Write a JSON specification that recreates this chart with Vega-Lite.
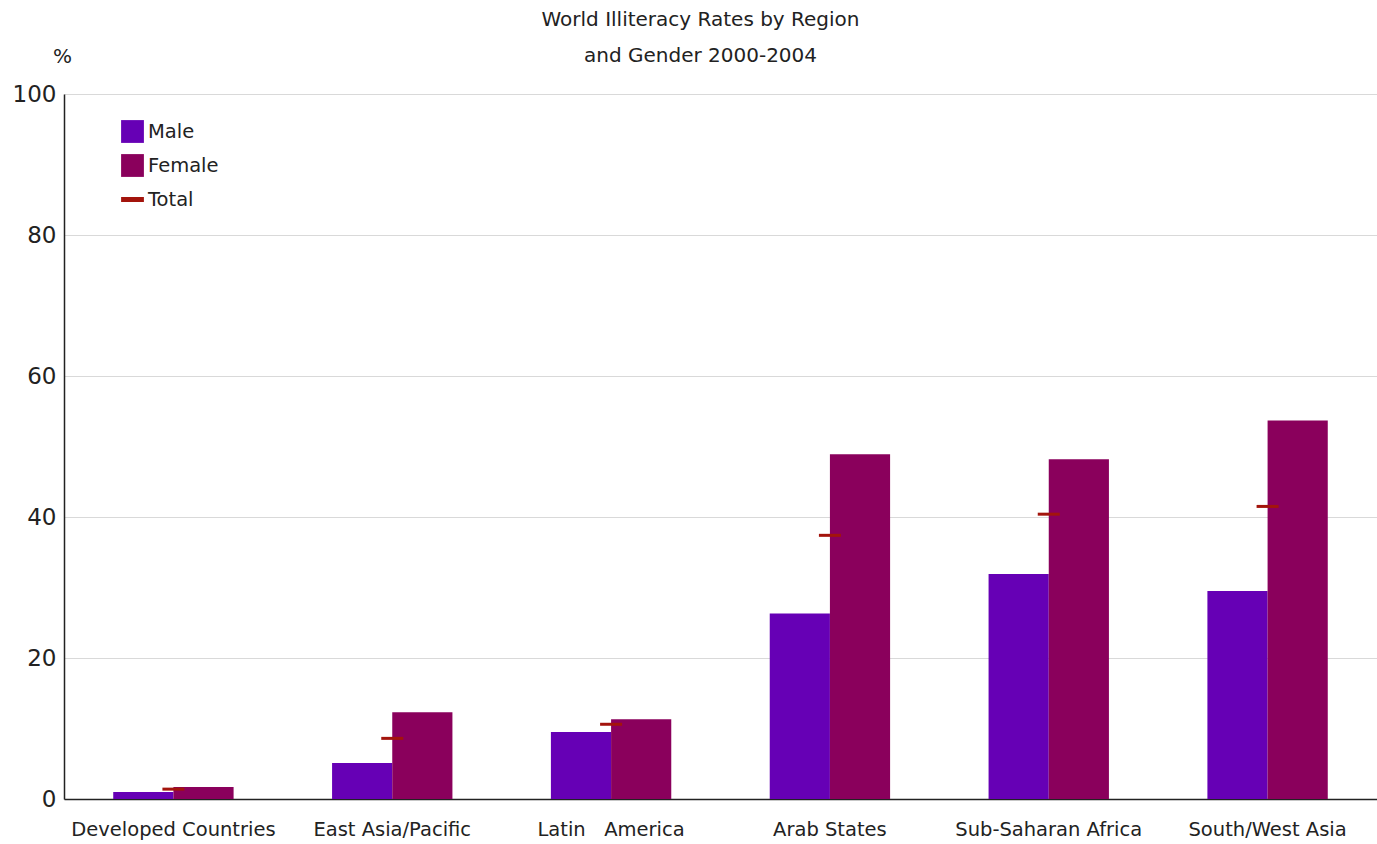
{
  "$schema": "https://vega.github.io/schema/vega-lite/v6.json",
  "autosize": "none",
  "width": 1313,
  "height": 705,
  "padding": {"left": 64, "top": 94, "right": 0, "bottom": 45},
  "background": "white",
  "title": {
    "text": ["World Illiteracy Rates by Region", "and Gender 2000-2004"],
    "font": "DejaVu Sans",
    "fontSize": 20,
    "fontWeight": "normal",
    "color": "#222222",
    "lineHeight": 36,
    "anchor": "middle",
    "frame": "group",
    "dx": -20,
    "offset": -20
  },
  "config": {
    "view": {"stroke": null},
    "font": "DejaVu Sans"
  },
  "data": {
    "values": [
      {"region": "Developed Countries", "gender": "Male", "value": 1.0},
      {"region": "Developed Countries", "gender": "Female", "value": 1.7},
      {"region": "Developed Countries", "gender": "Total", "value": 1.4},
      {"region": "East Asia/Pacific", "gender": "Male", "value": 5.1},
      {"region": "East Asia/Pacific", "gender": "Female", "value": 12.3},
      {"region": "East Asia/Pacific", "gender": "Total", "value": 8.6},
      {"region": "Latin\u00a0\u00a0\u00a0America", "gender": "Male", "value": 9.5},
      {"region": "Latin\u00a0\u00a0\u00a0America", "gender": "Female", "value": 11.3},
      {"region": "Latin\u00a0\u00a0\u00a0America", "gender": "Total", "value": 10.6},
      {"region": "Arab States", "gender": "Male", "value": 26.3},
      {"region": "Arab States", "gender": "Female", "value": 48.9},
      {"region": "Arab States", "gender": "Total", "value": 37.4},
      {"region": "Sub-Saharan Africa", "gender": "Male", "value": 31.9},
      {"region": "Sub-Saharan Africa", "gender": "Female", "value": 48.2},
      {"region": "Sub-Saharan Africa", "gender": "Total", "value": 40.4},
      {"region": "South/West Asia", "gender": "Male", "value": 29.5},
      {"region": "South/West Asia", "gender": "Female", "value": 53.7},
      {"region": "South/West Asia", "gender": "Total", "value": 41.5}
    ]
  },
  "encoding": {
    "x": {
      "field": "region",
      "type": "nominal",
      "sort": null,
      "scale": {"paddingInner": 0.45, "paddingOuter": 0.225},
      "axis": {
        "title": null,
        "labelAngle": 0,
        "labelFontSize": 19.5,
        "labelColor": "#222222",
        "labelFont": "DejaVu Sans",
        "labelLimit": 0,
        "labelPadding": 21,
        "ticks": false,
        "domainColor": "#222222",
        "domainWidth": 1.5,
        "grid": false
      }
    },
    "y": {
      "field": "value",
      "type": "quantitative",
      "scale": {"domain": [0, 100], "nice": false},
      "axis": {
        "title": "%",
        "titleAngle": 0,
        "titleX": -2,
        "titleY": -28,
        "titleFontSize": 20,
        "titleFontWeight": "normal",
        "titleColor": "#222222",
        "titleFont": "DejaVu Sans",
        "values": [0, 20, 40, 60, 80, 100],
        "labelFontSize": 23,
        "labelFont": "DejaVu Sans",
        "labelColor": "#222222",
        "labelPadding": 8,
        "ticks": false,
        "domainColor": "#222222",
        "domainWidth": 1.5,
        "gridColor": "#d9d9d9",
        "gridWidth": 1
      }
    },
    "color": {
      "field": "gender",
      "type": "nominal",
      "scale": {
        "domain": ["Male", "Female", "Total"],
        "range": ["#6600b5", "#8a005c", "#a3140c"]
      },
      "legend": {
        "title": null,
        "orient": "none",
        "legendX": 57,
        "legendY": 26,
        "labelFontSize": 19.5,
        "labelFont": "DejaVu Sans",
        "labelColor": "#222222",
        "labelOffset": 4,
        "symbolSize": 520,
        "symbolStrokeWidth": 0,
        "rowPadding": 11,
        "encode": {
          "symbols": {
            "update": {
              "shape": {"signal": "datum.value === 'Total' ? 'M-1,-0.22H1V0.22H-1Z' : 'square'"}
            }
          }
        }
      }
    }
  },
  "layer": [
    {
      "transform": [{"filter": "datum.gender !== 'Total'"}],
      "mark": {"type": "bar"},
      "encoding": {
        "xOffset": {"field": "gender", "type": "nominal", "sort": ["Male", "Female"], "scale": {"paddingInner": 0, "paddingOuter": 0}}
      }
    },
    {
      "transform": [{"filter": "datum.gender === 'Total'"}],
      "mark": {"type": "tick", "size": 22, "thickness": 3, "opacity": 1}
    }
  ]
}
